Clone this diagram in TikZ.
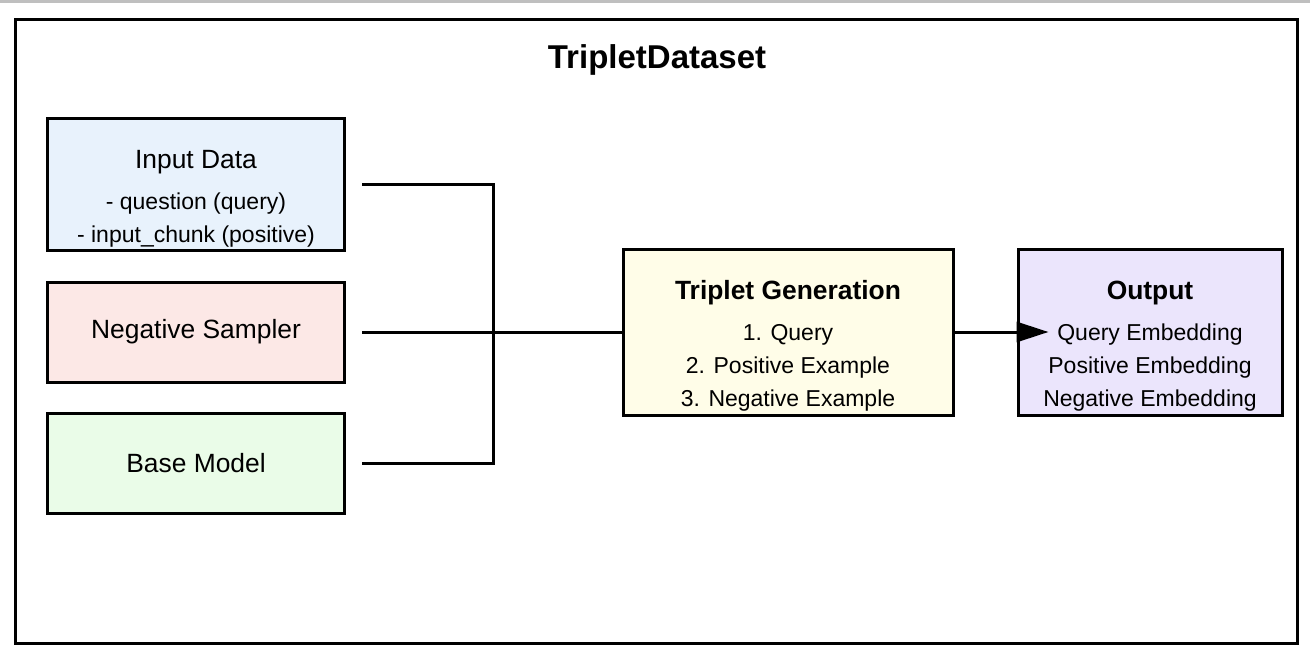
\documentclass[tikz,border=0pt]{standalone}
\usepackage{fontspec}
\setmainfont{Liberation Sans}
\usetikzlibrary{arrows.meta,positioning}
\definecolor{inpfill}{HTML}{E8F2FC}
\definecolor{negfill}{HTML}{FCE8E6}
\definecolor{basefill}{HTML}{EAFCE8}
\definecolor{tripfill}{HTML}{FFFDE8}
\definecolor{outfill}{HTML}{EBE5FC}
\tikzset{
  block/.style={draw=black, line width=1.5pt, minimum width=148.5pt, inner sep=0pt},
  wire/.style={line width=1.5pt},
  head/.style={font=\fontsize{13.2}{15}\selectfont},
  headbf/.style={font=\fontsize{13.2}{15}\selectfont\bfseries},
  lines/.style={align=center, font=\fontsize{11.5}{16.5}\selectfont},
}
\begin{document}
\begin{tikzpicture}[x=0.5pt, y=-0.5pt]
\useasboundingbox (0,0) rectangle (1310,658);
\fill[black!25] (0,0) rectangle (1310,3);
% outer frame
\draw[line width=1.5pt] (15.5,19.5) rectangle (1297.5,643);
\node[font=\fontsize{16.5}{19}\selectfont\bfseries] (title) at (657,60) {TripletDataset};

% inputs
\node[block, fill=inpfill, minimum height=66pt] (inp) at (196,184) {};
\node[head] (inp-h) at (196,162) {Input Data};
\node[lines, below=2.5pt of inp-h] (inp-t) {- question (query)\\- input\_chunk (positive)};
\node[block, fill=negfill, minimum height=50pt, head] (neg) at (196,332) {Negative Sampler};
\node[block, fill=basefill, minimum height=50pt, head] (base) at (196,463.5) {Base Model};

% triplet generation
\node[block, fill=tripfill, minimum width=165pt, minimum height=83pt] (trip) at (788,332) {};
\node[headbf] (trip-h) at (788,293) {Triplet Generation};
\node[lines, below=2.5pt of trip-h] (trip-t) {1. Query\\2. Positive Example\\3. Negative Example};

% output
\node[block, fill=outfill, minimum width=132pt, minimum height=83pt] (out) at (1150,332) {};
\node[headbf] (out-h) at (1150,293) {Output};
\node[lines, below=2.5pt of out-h] (out-t) {Query Embedding\\Positive Embedding\\Negative Embedding};

\coordinate (jn) at (493,332);
\draw[wire, shorten <=8pt, shorten >=8pt] (inp.east) -| (jn) |- (base.east);
\draw[wire, shorten <=8pt] (neg.east) -- (trip.west);
\draw[wire, -{Triangle[length=16pt,width=10pt]}, shorten >=-16pt] (trip.east) -- (out.west);
\end{tikzpicture}
\end{document}
